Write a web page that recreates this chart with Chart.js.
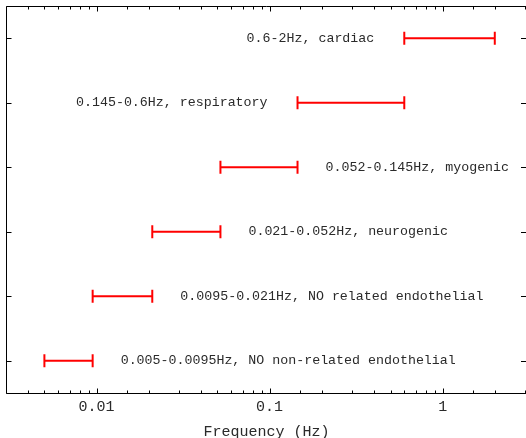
<!DOCTYPE html>
<html>
<head>
<meta charset="utf-8">
<script src="https://cdn.jsdelivr.net/npm/chart.js@4/dist/chart.umd.min.js"></script>
<style>
  html, body { margin: 0; padding: 0; background: #fff; overflow: hidden; }
  #wrap { width: 528px; height: 438px; }
</style>
</head>
<body>
<div id="wrap"><canvas id="chart"></canvas></div>
<script>
// frequency bands (bottom to top)
const bands = ['NO non-related endothelial', 'NO related endothelial', 'neurogenic', 'myogenic', 'respiratory', 'cardiac'];
const lowHz = [0.005, 0.0095, 0.021, 0.052, 0.145, 0.6];
const highHz = [0.0095, 0.021, 0.052, 0.145, 0.6, 2];
const xTickLabels = [0.01, 0.1, 1];

const FONT = '"Liberation Mono", "Courier New", monospace';
const RED = '#ff0000';
const TEXT = '#2a2a2a';

const datasets = bands.map((name, i) => ({
    label: name,
    data: [{x: lowHz[i], y: i + 1}, {x: highHz[i], y: i + 1}],
    showLine: true,
    borderColor: RED,
    backgroundColor: RED,
    borderWidth: 2,
    pointStyle: 'line',
    rotation: 90,
    pointRadius: 6.5,
    pointBorderWidth: 2,
    pointBorderColor: RED
}));

// frame (left/top/bottom), inward ticks and band labels
const decorations = {
    id: 'decorations',
    afterDatasetsDraw(chart) {
        const ctx = chart.ctx;
        const a = chart.chartArea;
        const x = chart.scales.x, y = chart.scales.y;
        const L = Math.round(a.left) + 0.5, T = Math.round(a.top) + 0.5, B = Math.round(a.bottom) + 0.5;
        ctx.save();
        ctx.strokeStyle = '#000';
        ctx.lineWidth = 1;
        ctx.beginPath();
        ctx.moveTo(a.right, T); ctx.lineTo(L, T); ctx.lineTo(L, B); ctx.lineTo(a.right, B);
        ctx.stroke();

        ctx.beginPath();
        x.ticks.forEach(t => {
            const px = Math.round(x.getPixelForValue(t.value)) + 0.5;
            const major = Math.abs(Math.log10(t.value) - Math.round(Math.log10(t.value))) < 1e-9;
            const len = major ? 5 : 3;
            ctx.moveTo(px, B); ctx.lineTo(px, B - len);
            ctx.moveTo(px, T); ctx.lineTo(px, T + len);
        });
        bands.forEach((_, i) => {
            const py = Math.round(y.getPixelForValue(i + 1)) + 0.5;
            ctx.moveTo(L, py); ctx.lineTo(L + 5, py);
            ctx.moveTo(a.right, py); ctx.lineTo(a.right - 6, py);
        });
        ctx.stroke();

        ctx.font = '13.3px ' + FONT;
        ctx.fillStyle = TEXT;
        ctx.textBaseline = 'middle';
        const gap = 28;
        bands.forEach((name, i) => {
            const text = lowHz[i] + '-' + highHz[i] + 'Hz, ' + name;
            const w = ctx.measureText(text).width;
            const py = y.getPixelForValue(i + 1);
            const right = x.getPixelForValue(highHz[i]) + gap;
            if (right + w <= a.right - 10) {
                ctx.textAlign = 'left';
                ctx.fillText(text, right, py);
            } else {
                ctx.textAlign = 'right';
                ctx.fillText(text, x.getPixelForValue(lowHz[i]) - gap - 2, py);
            }
        });
        ctx.restore();
    }
};

new Chart(document.getElementById('chart'), {
    type: 'scatter',
    data: { datasets },
    options: {
        responsive: true,
        maintainAspectRatio: false,
        animation: false,
        layout: { autoPadding: false, padding: { left: 6, right: 1, top: 6, bottom: 0 } },
        plugins: { legend: { display: false }, tooltip: { enabled: false } },
        scales: {
            x: {
                type: 'logarithmic',
                min: 0.003,
                max: 3.07,
                grid: { display: false, drawTicks: false },
                border: { display: false },
                afterFit: s => { s.height = 45; s.paddingLeft = 0; s.paddingRight = 0; },
                ticks: {
                    autoSkip: false,
                    maxRotation: 0,
                    padding: 7,
                    color: TEXT,
                    font: { family: FONT, size: 15, lineHeight: 1 },
                    callback: v => xTickLabels.some(t => Math.abs(t - v) / t < 1e-9) ? String(v) : ''
                },
                title: {
                    display: true,
                    text: 'Frequency (Hz)',
                    color: TEXT,
                    font: { family: FONT, size: 15, lineHeight: 1 },
                    padding: { top: 11, bottom: -2 }
                }
            },
            y: {
                type: 'linear',
                min: 0.5,
                max: 6.5,
                display: false
            }
        }
    },
    plugins: [decorations]
});
</script>
</body>
</html>
